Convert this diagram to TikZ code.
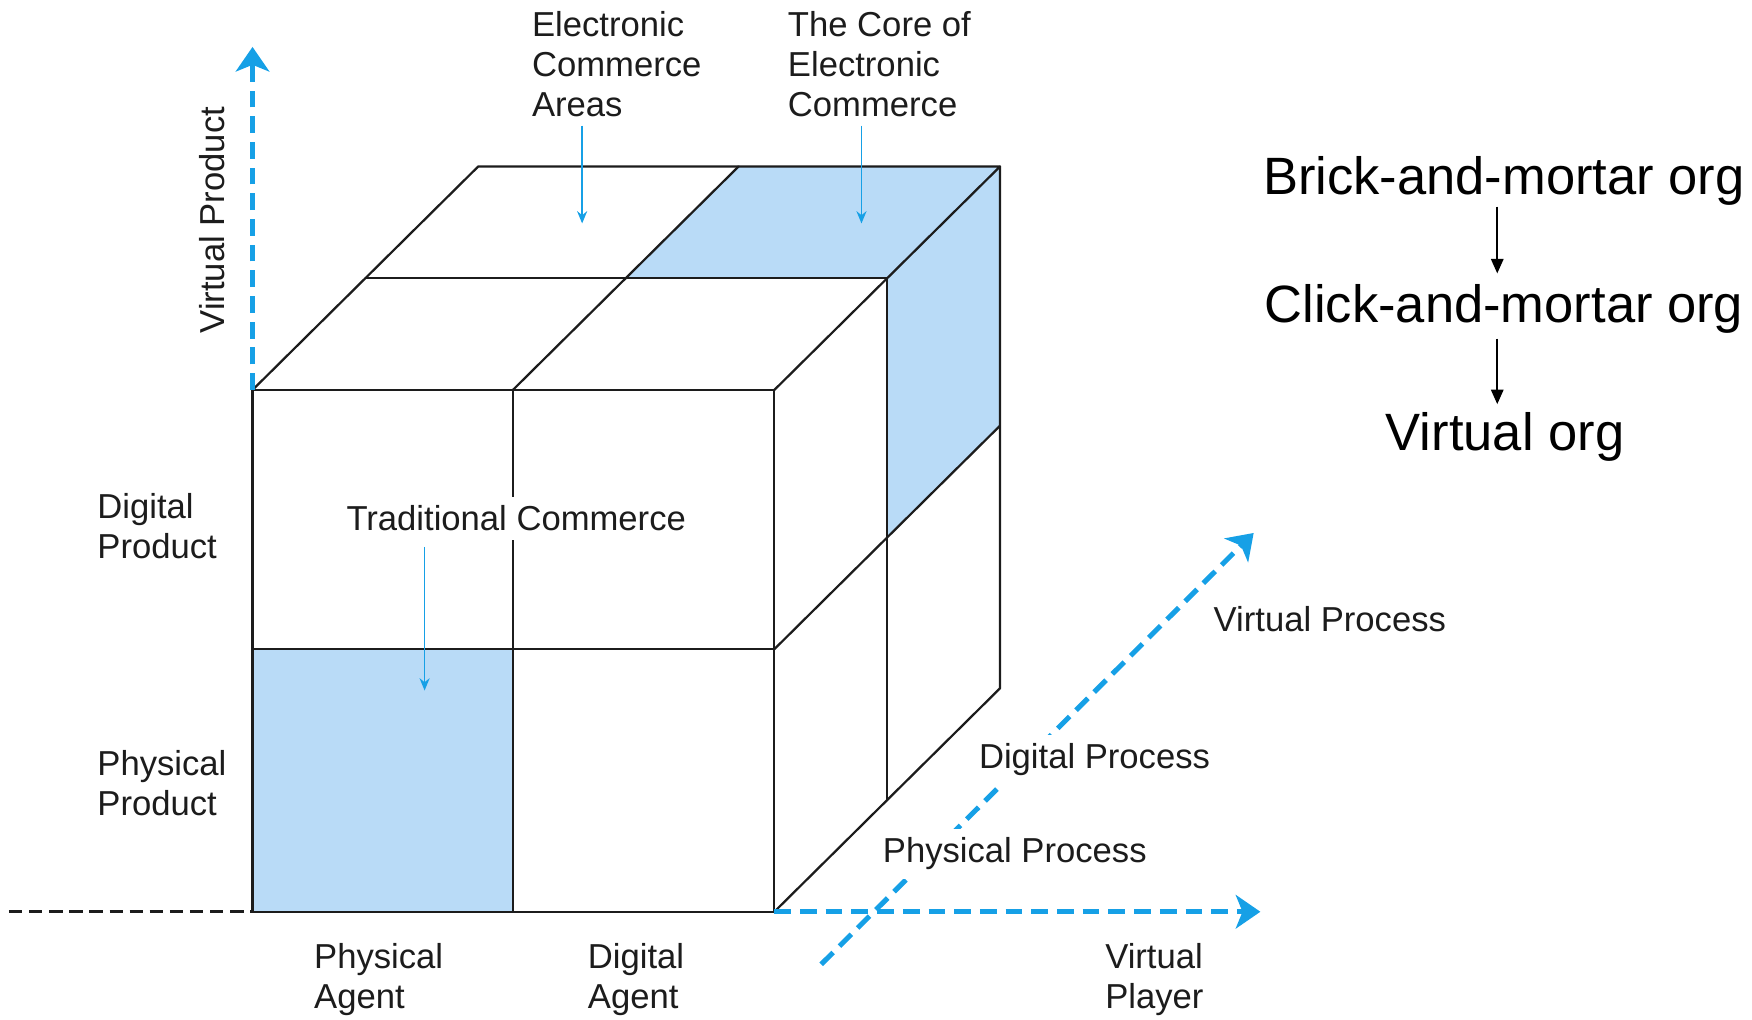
\documentclass[tikz,border=0pt]{standalone}
\usepackage{fontspec}
\setmainfont{Liberation Sans}
\usetikzlibrary{arrows.meta,calc}
\definecolor{axisblue}{RGB}{22,160,230}
\definecolor{cellblue}{RGB}{185,219,247}
\definecolor{ink}{RGB}{28,28,28}

\begin{document}
\begin{tikzpicture}[x=1pt,y=-1pt,
  edge/.style={draw=ink,line width=2pt,line join=round,line cap=round},
  cell/.style={fill=cellblue,draw=none},
  axis/.style={draw=axisblue,line width=4.5pt,dash pattern=on 15pt off 8pt,
    -{Stealth[length=22pt,width=30pt,inset=6pt]}},
  baseaxis/.style={draw=ink,line width=3pt,dash pattern=on 12pt off 6pt},
  pointer/.style={draw=axisblue,line width=1.6pt,-{Stealth[length=11pt,width=9pt]}},
  flow/.style={draw=black,line width=2pt,-{Triangle[length=13pt,width=11pt]}},
  lbl/.style={font=\fontsize{31}{35.5}\selectfont,text=ink,inner sep=0pt,align=left},
  cutlbl/.style={lbl,fill=white,inner xsep=4pt,inner ysep=8pt},
  org/.style={font=\fontsize{47}{56}\selectfont,text=black,inner sep=0pt}]
\useasboundingbox (0,0) rectangle (1568,912);

% shaded cells: front lower-left, top back-right, right upper-back
\fill[cell] (226,581) rectangle (459,816);
\fill[cell] (560,249) -- (794,249) -- (895,149) -- (661,149) -- cycle;
\fill[cell] (794,249) -- (895,149) -- (895,381) -- (794,481) -- cycle;

% front face
\draw[edge] (226,349) rectangle (693,816);
\draw[edge] (459,349) -- (459,816);
\draw[edge] (226,581) -- (693,581);
% top face
\draw[edge] (226,349) -- (428,149) -- (895,149) -- (693,349);
\draw[edge] (459,349) -- (661,149);
\draw[edge] (327,249) -- (794,249);
% right face
\draw[edge] (895,149) -- (895,616) -- (693,816);
\draw[edge] (794,249) -- (794,716);
\draw[edge] (693,581) -- (895,381);

% axes
\coordinate (origin) at (226,816);
\coordinate (leftend) at (8,816);
\coordinate (topcorner) at (226,349);
\coordinate (vprodtip) at (226,42);
\coordinate (frontright) at (693,816);
\coordinate (vplayertip) at (1128,816);
\coordinate (proctail) at (735,863);
\coordinate (proctip) at (1122,477);
\draw[baseaxis] (leftend) -- (origin);
\draw[axis] (topcorner) -- (vprodtip);
\draw[axis] (frontright) -- (vplayertip);
\draw[axis] (proctail) -- (proctip);

% labels (multi-line labels are placed by the baseline of their last line)
\node[lbl,anchor=base west] (ecArea) at (476,104) {Electronic\\Commerce\\Areas};
\node[lbl,anchor=base west] (ecCore) at (705,104) {The Core of\\Electronic\\Commerce};
\node[lbl,rotate=90] (vprod) at (190,197) {Virtual Product};
\node[lbl,anchor=base west] (dprod) at (87,499.5) {Digital\\Product};
\node[lbl,anchor=base west] (pprod) at (87,729.5) {Physical\\Product};
\node[lbl,anchor=base west] (pagent) at (281,902.5) {Physical\\Agent};
\node[lbl,anchor=base west] (dagent) at (526,902.5) {Digital\\Agent};
\node[lbl,anchor=base west] (vplayer) at (989,902.5) {Virtual\\Player};
\node[cutlbl,anchor=base] (trad) at (462,475) {Traditional Commerce};
\node[cutlbl,anchor=base west] (pproc) at (786,772) {Physical Process};
\node[cutlbl,anchor=base west] (dproc) at (872,688) {Digital Process};
\node[lbl,anchor=base west] (vproc) at (1086,565) {Virtual Process};

% pointers
\coordinate (areaTip) at (521,200);
\coordinate (coreTip) at (771,200);
\coordinate (tradTip) at (380,618);
\draw[pointer,shorten <=8pt] (ecArea.south -| areaTip) -- (areaTip);
\draw[pointer,shorten <=8pt] (ecCore.south -| coreTip) -- (coreTip);
\draw[pointer,shorten <=6pt] (trad.south -| tradTip) -- (tradTip);

% organisation types
\node[org,anchor=base] (brick) at (1346,174) {Brick-and-mortar org};
\node[org,anchor=base] (click) at (1346,289) {Click-and-mortar org};
\node[org,anchor=base] (virt) at (1347,403) {Virtual org};
\draw[flow,shorten <=1pt,shorten >=10pt] ([xshift=-6pt]brick.south) -- ([xshift=-6pt]click.north);
\draw[flow,shorten <=4pt,shorten >=7pt] ([xshift=-6pt]click.south) -- ([xshift=-7pt]virt.north);
\end{tikzpicture}
\end{document}
